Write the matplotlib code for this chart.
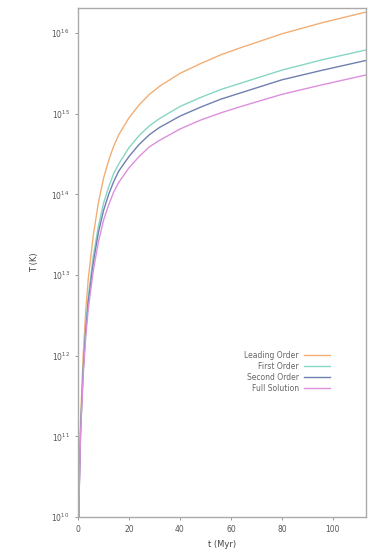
import numpy as np
import matplotlib
matplotlib.use("Agg")
import matplotlib.pyplot as plt

# time samples (Myr)
t = [0.3, 0.5, 1, 2, 3, 4, 6, 8, 10, 12, 14, 16, 20, 24, 28, 32, 40, 48, 56, 64, 80, 96, 113]

# log10 of each series
log_leading = [10.0, 10.45, 11.2, 12.0, 12.55, 12.95, 13.5, 13.9, 14.2, 14.42, 14.6, 14.74,
               14.95, 15.11, 15.24, 15.34, 15.5, 15.62, 15.73, 15.82, 15.99, 16.13, 16.26]
log_first = [10.0, 10.42, 11.11, 11.85, 12.36, 12.73, 13.24, 13.61, 13.89, 14.09, 14.26, 14.38,
             14.58, 14.73, 14.85, 14.94, 15.09, 15.2, 15.3, 15.38, 15.54, 15.67, 15.79]
log_second = [10.0, 10.41, 11.08, 11.81, 12.3, 12.67, 13.16, 13.53, 13.8, 14.0, 14.16, 14.29,
              14.47, 14.62, 14.74, 14.83, 14.97, 15.08, 15.18, 15.26, 15.42, 15.54, 15.66]
log_full = [10.0, 10.39, 11.05, 11.75, 12.23, 12.58, 13.06, 13.41, 13.68, 13.87, 14.03, 14.15,
            14.33, 14.47, 14.59, 14.67, 14.81, 14.92, 15.01, 15.09, 15.24, 15.36, 15.48]

labels = ["Leading Order", "First Order", "Second Order", "Full Solution"]
colors = ["#f2ae74", "#86d6c4", "#6f80b0", "#dc90dc"]
series = [log_leading, log_first, log_second, log_full]

fig = plt.figure(figsize=(3.7, 5.55), dpi=100)
ax = fig.add_axes([0.211, 0.0685, 0.778, 0.917])

for s, c, lab in zip(series, colors, labels):
    ax.plot(t, 10.0 ** np.array(s), color=c, lw=1.0, label=lab)

ax.set_yscale("log")
ax.set_xlim(0, 113)
ax.set_ylim(1e10, 10 ** 16.31)
ax.set_xticks([0, 20, 40, 60, 80, 100])
ax.set_yticks([10.0 ** k for k in range(10, 17)])
ax.minorticks_off()

for sp in ax.spines.values():
    sp.set_color("#aaaaaa")
    sp.set_linewidth(1.0)
ax.tick_params(axis="both", labelsize=5.5, colors="#888888", length=2.5, width=0.6, labelcolor="#555555")

ax.set_xlabel("t (Myr)", fontsize=6, color="#444444", labelpad=4)
ax.set_ylabel("T (K)", fontsize=6, color="#444444", labelpad=9)

leg = ax.legend(loc="upper right", bbox_to_anchor=(0.9, 0.34), frameon=False,
                fontsize=5.5, markerfirst=False, handlelength=3.5, labelspacing=0.25,
                handletextpad=0.6)
for txt in leg.get_texts():
    txt.set_color("#666666")

fig.savefig("out.png", dpi=100)
